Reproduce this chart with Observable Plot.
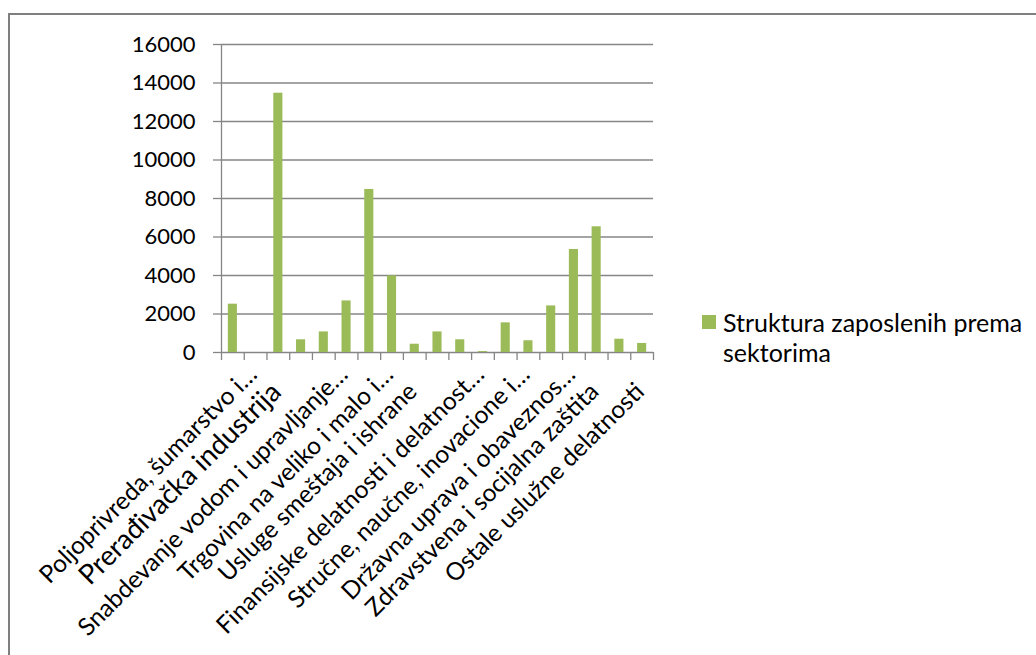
<!DOCTYPE html>
<html>
<head>
<meta charset="utf-8">
<script src="https://cdn.jsdelivr.net/npm/d3@7"></script>
<script src="https://cdn.jsdelivr.net/npm/@observablehq/plot@0.6"></script>
<style>
  html, body { margin: 0; padding: 0; background: #fff; }
  body { width: 1036px; height: 655px; position: relative; overflow: hidden; font-family: Lato, "Open Sans", sans-serif; }
  #chart { position: absolute; left: 0; top: 0; }
  #frame { position: absolute; left: 8px; top: 13px; width: 1100px; height: 700px; border: 2px solid #7f7f7f; box-sizing: border-box; }
  #legend { position: absolute; left: 702px; top: 307px; font-family: Lato, sans-serif; font-size: 25px; line-height: 30px; color: #000; white-space: nowrap; }
  #legend .sw { position: absolute; left: 0; top: 8px; width: 14px; height: 14px; background: #9BBB59; }
  #legend .tx { margin-left: 21px; }
</style>
</head>
<body>
<div id="frame"></div>
<div id="chart"></div>
<div id="legend"><span class="sw"></span><div class="tx">Struktura zaposlenih prema<br>sektorima</div></div>
<script>
const categories = [
  "Poljoprivreda, šumarstvo i ribarstvo",
  "Rudarstvo",
  "Prerađivačka industrija",
  "Snabdevanje električnom energijom, gasom i parom",
  "Snabdevanje vodom i upravljanje otpadnim vodama",
  "Građevinarstvo",
  "Trgovina na veliko i malo i popravka motornih vozila",
  "Saobraćaj i skladištenje",
  "Usluge smeštaja i ishrane",
  "Informisanje i komunikacije",
  "Finansijske delatnosti i delatnost osiguranja",
  "Poslovanje nekretninama",
  "Stručne, naučne, inovacione i tehničke delatnosti",
  "Administrativne i pomoćne uslužne delatnosti",
  "Državna uprava i obavezno socijalno osiguranje",
  "Obrazovanje",
  "Zdravstvena i socijalna zaštita",
  "Umetnost, zabava i rekreacija",
  "Ostale uslužne delatnosti"
];
const values = [2510, 0, 13470, 660, 1070, 2680, 8470, 3980, 430, 1070, 660, 50, 1540, 610, 2420, 5350, 6530, 690, 470];
const tickLabels = [
  "Poljoprivreda, šumarstvo i…", "", "Prerađivačka industrija", "", "Snabdevanje vodom i upravljanje…", "",
  "Trgovina na veliko i malo i…", "", "Usluge smeštaja i ishrane", "", "Finansijske delatnosti i delatnost…", "",
  "Stručne, naučne, inovacione i…", "", "Državna uprava i obaveznos…", "", "Zdravstvena i socijalna zaštita", "",
  "Ostale uslužne delatnosti"
];
const yTicks = [0, 2000, 4000, 6000, 8000, 10000, 12000, 14000, 16000];
const seriesName = "Struktura zaposlenih prema sektorima";

const data = categories.map((c, i) => ({i, category: c, value: values[i], label: tickLabels[i]}));
const fullLabels = data.filter(d => d.label !== "" && !d.label.endsWith("…"));
const cutLabels = data.filter(d => d.label.endsWith("…"));
const n = categories.length;
const gridColor = "#868686";

const labelOpts = (dx, dy) => ({
  x: d => d.i + 0.5, y: () => 0, text: "label", rotate: -45, textAnchor: "end", lineAnchor: "middle",
  fontSize: d => d.i === 2 ? 27.5 : 24.5, dx, dy, fill: "#000"
});

const chart = Plot.plot({
  width: 1036,
  height: 655,
  marginLeft: 221,
  marginRight: 383,
  marginTop: 44,
  marginBottom: 303,
  x: {type: "linear", domain: [0, n], axis: null},
  y: {domain: [0, 16000], axis: null},
  style: {background: "transparent", fontFamily: "Lato, 'Open Sans', sans-serif", color: "#000"},
  marks: [
    Plot.ruleY(yTicks, {stroke: gridColor, strokeWidth: 1.3}),
    Plot.axisY({ticks: yTicks, label: null, tickSize: 8, tickPadding: 18, fontSize: 22, stroke: gridColor, fill: "#000", strokeWidth: 1.3, tickFormat: d => String(d)}),
    Plot.ruleX([0], {stroke: gridColor, strokeWidth: 1.3}),
    Plot.axisX({ticks: d3.range(n + 1), label: null, tickSize: 8, tickFormat: () => "", stroke: gridColor, strokeWidth: 1.3}),
    Plot.rectY(data, {x1: d => d.i + 0.3, x2: d => d.i + 0.7, y: "value", fill: "#9BBB59", title: "category"}),
    Plot.text(fullLabels, labelOpts(-2, 35)),
    Plot.text(cutLabels, labelOpts(20, 18))
  ]
});
document.getElementById("chart").appendChild(chart);
</script>
</body>
</html>
